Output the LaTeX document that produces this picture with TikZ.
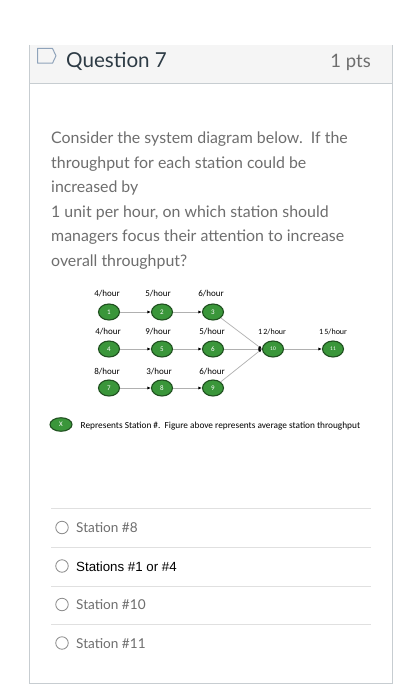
\documentclass[tikz,border=0pt]{standalone}
\usepackage{fontspec}
\setmainfont{Lato}
\newfontfamily\diafont{Carlito}
\newfontfamily\arialfont{Liberation Sans}
\usetikzlibrary{arrows.meta,shapes.geometric}
\definecolor{cardline}{HTML}{C7CDD1}
\definecolor{headfill}{HTML}{F5F5F5}
\definecolor{bodytext}{HTML}{6E6E6E}
\definecolor{headtext}{HTML}{2D3B45}
\definecolor{stgreen}{HTML}{3A963A}
\definecolor{stborder}{HTML}{1F4F1F}
\definecolor{connline}{HTML}{B0B0B0}
\definecolor{iconline}{HTML}{8FA3BA}
\tikzset{
  station/.style={ellipse, draw=stborder, line width=1.1pt, fill=stgreen,
    minimum width=21pt, minimum height=16pt, inner sep=0pt,
    text=white, font=\diafont\fontsize{7}{8}\selectfont},
  rate/.style={font=\diafont\fontsize{9}{10}\selectfont, text=black, inner sep=0pt},
  flow/.style={draw=connline, line width=0.7pt, -{Latex[length=3.5pt,width=3pt,color=black]}},
  bodyline/.style={anchor=base west, inner sep=0pt, text=bodytext,
    font=\fontsize{15.9}{18}\selectfont},
  optline/.style={anchor=base west, inner sep=0pt, text=bodytext,
    font=\fontsize{13.6}{17}\selectfont},
  radio/.style={circle, draw=gray!90, line width=0.8pt, minimum size=12.5pt, inner sep=0pt},
  sep/.style={draw=black!12, line width=0.7pt}
}
\begin{document}
\begin{tikzpicture}[x=1pt,y=-1pt]
\useasboundingbox (0,0) rectangle (406,700);
\fill[white] (0,0) rectangle (406,700);
% card
\fill[headfill] (29,45) rectangle (392,83);
\draw[cardline, line width=0.8pt] (29,45) -- (29,683) -- (392,683) -- (392,45);
\draw[cardline, line width=0.8pt] (29,83) -- (392,83);
% bookmark icon
\draw[iconline, line width=1pt, line join=round] (37.5,48.5) -- (52.5,48.5) -- (56,55.8) -- (52.5,63.2) -- (37.5,63.2) -- cycle;
\node[anchor=base west, inner sep=0pt, text=headtext, font=\fontsize{20.6}{24}\selectfont] (qtitle) at (66,68) {Question 7};
\node[anchor=base east, inner sep=0pt, text=bodytext, font=\fontsize{18.5}{22}\selectfont] (qpts) at (371,68) {1 pts};
% body text
\node[bodyline] (l1) at (51,144) {Consider the system diagram below.\ \ If the};
\node[bodyline] (l2) at (51,168.5) {throughput for each station could be};
\node[bodyline] (l3) at (51,193) {increased by};
\node[bodyline] (l4) at (51,217.5) {1 unit per hour, on which station should};
\node[bodyline] (l5) at (51,242) {managers focus their attention to increase};
\node[bodyline] (l6) at (51,266.5) {overall throughput?};
% diagram
\node[station] (s1) at (109,312) {1};
\node[station] (s2) at (162,312) {2};
\node[station] (s3) at (213,312) {3};
\node[station] (s4) at (109,349) {4};
\node[station] (s5) at (162,349) {5};
\node[station] (s6) at (213,349) {6};
\node[station] (s7) at (109,388) {7};
\node[station] (s8) at (162,388) {8};
\node[station] (s9) at (213,388) {9};
\node[station, font=\diafont\fontsize{5.5}{6}\selectfont] (s10) at (273,349) {10};
\node[station, font=\diafont\fontsize{5.5}{6}\selectfont] (s11) at (333,349) {11};
\node[rate] (r1) at (107,294) {4/hour};
\node[rate] (r2) at (158,294) {5/hour};
\node[rate] (r3) at (211,294) {6/hour};
\node[rate] (r4) at (108,332) {4/hour};
\node[rate] (r5) at (158,332) {9/hour};
\node[rate] (r6) at (212,332) {5/hour};
\node[rate] (r7) at (107,372) {8/hour};
\node[rate] (r8) at (159,372) {3/hour};
\node[rate] (r9) at (212,372) {6/hour};
\node[rate, font=\diafont\fontsize{8}{9}\selectfont] (r10) at (272,332) {1\,2/hour};
\node[rate, font=\diafont\fontsize{8}{9}\selectfont] (r11) at (333,332) {1\,5/hour};
\draw[flow] (s1) -- (s2);
\draw[flow] (s2) -- (s3);
\draw[flow] (s4) -- (s5);
\draw[flow] (s5) -- (s6);
\draw[flow] (s7) -- (s8);
\draw[flow] (s8) -- (s9);
\draw[flow] (s3) -- (s10.west);
\draw[flow] (s6) -- (s10.west);
\draw[flow] (s9) -- (s10.west);
\draw[flow] (s10) -- (s11);
% legend
\node[station, minimum width=22pt, minimum height=13.5pt] (lx) at (61,424.5) {X};
\node[anchor=west, inner sep=0pt, font=\diafont\fontsize{9.3}{10}\selectfont] (legend) at (80.5,426.5) {Represents Station \#.\ \ Figure above represents average station throughput};
% options
\draw[sep] (51,508) -- (371,508);
\draw[sep] (51,547) -- (371,547);
\draw[sep] (51,586) -- (371,586);
\draw[sep] (51,624) -- (371,624);
\node[radio] (o1) at (62,527.5) {};
\node[radio] (o2) at (62,566) {};
\node[radio] (o3) at (62,604.5) {};
\node[radio] (o4) at (62,643) {};
\node[optline] (t1) at (76,532.5) {Station \#8};
\node[optline, text=black, font=\arialfont\fontsize{13.3}{17}\selectfont] (t2) at (76,571) {Stations \#1 or \#4};
\node[optline] (t3) at (76,609.5) {Station \#10};
\node[optline] (t4) at (76,648) {Station \#11};
\end{tikzpicture}
\end{document}
